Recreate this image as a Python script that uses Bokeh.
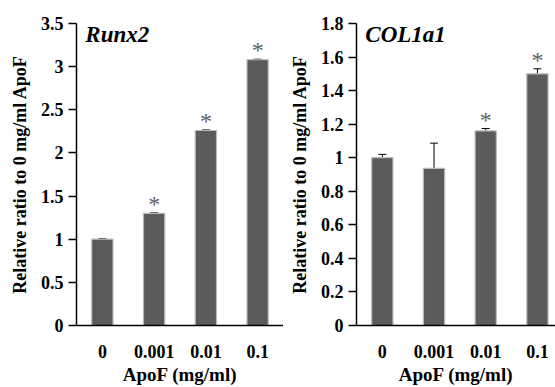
from bokeh.plotting import figure
from bokeh.layouts import row
from bokeh.models import (Range1d, FixedTicker, NumeralTickFormatter, Whisker,
                          TeeHead, ColumnDataSource, Label)
from bokeh.embed import file_html
from bokeh.resources import INLINE
from bokeh.core.properties import value

doses = ["0", "0.001", "0.01", "0.1"]
runx2_mean = [1.00, 1.30, 2.26, 3.08]
runx2_err = [0.006, 0.006, 0.006, 0.006]
runx2_sig = ["", "*", "*", "*"]
col1a1_mean = [1.00, 0.937, 1.16, 1.50]
col1a1_err = [0.02, 0.15, 0.014, 0.03]
col1a1_sig = ["", "", "*", "*"]
runx2_ticks = [0, 0.5, 1, 1.5, 2, 2.5, 3, 3.5]
col1a1_ticks = [0, 0.2, 0.4, 0.6, 0.8, 1, 1.2, 1.4, 1.6, 1.8]

FONT = "Liberation Serif"


def panel(title, means, errs, sig, yticks, width, border_left, xend):
    xs = [i + 0.5 for i in range(len(doses))]
    tops = [m + e for m, e in zip(means, errs)]
    src = ColumnDataSource(dict(x=xs, top=means, upper=tops, sig=sig))
    p = figure(width=width, height=387, output_backend="svg", toolbar_location=None,
               x_range=Range1d(0, xend), y_range=Range1d(0, yticks[-1]),
               min_border_left=border_left, min_border_right=0,
               min_border_top=23, min_border_bottom=59)
    p.outline_line_color = None
    p.grid.visible = False
    p.background_fill_color = "white"
    p.border_fill_color = "white"

    p.vbar(x="x", top="top", width=0.41, bottom=0, source=src,
           fill_color="#5b5b5b", line_color="#b8b8b8", line_width=1.2)
    w = Whisker(base="x", lower="top", upper="upper", source=src,
                line_color="black", line_width=1,
                lower_head=None, upper_head=TeeHead(size=8, line_color="black", line_width=1))
    p.add_layout(w)
    p.text(x="x", y="upper", text="sig", source=src, text_align="center",
           text_baseline="alphabetic", y_offset=-9,
           text_font=value(FONT), text_font_size="24px", text_color="#5e5e5e")

    lab = Label(x=0.17, y=yticks[-1], y_offset=-11, text=title, text_font=FONT,
                text_font_size="23px", text_font_style="bold italic",
                text_baseline="alphabetic", text_align="left", text_color="black")
    p.add_layout(lab)

    xa = p.xaxis[0]
    xa.ticker = FixedTicker(ticks=xs)
    xa.major_label_overrides = {x: d for x, d in zip(xs, doses)}
    xa.major_tick_line_color = None
    xa.minor_tick_line_color = None
    xa.major_label_standoff = 13
    xa.axis_label = "ApoF (mg/ml)"
    xa.axis_label_standoff = 3

    ya = p.yaxis[0]
    ya.ticker = FixedTicker(ticks=yticks)
    ya.formatter = NumeralTickFormatter(format="0.[0]")
    ya.major_tick_out = 8
    ya.major_tick_in = 0
    ya.minor_tick_line_color = None
    ya.major_label_standoff = 5
    ya.axis_label = "Relative ratio to 0 mg/ml ApoF"
    ya.axis_label_standoff = 8

    for ax in (xa, ya):
        ax.axis_line_color = "black"
        ax.axis_line_width = 1.5
        ax.major_tick_line_width = 1.5
        ax.major_label_text_font = FONT
        ax.major_label_text_font_size = "18px"
        ax.major_label_text_font_style = "bold"
        ax.major_label_text_color = "black"
        ax.axis_label_text_font = FONT
        ax.axis_label_text_font_size = "18px"
        ax.axis_label_text_font_style = "bold"
        ax.axis_label_text_color = "black"
    xa.axis_label_text_font_size = "19px"
    return p


p1 = panel("Runx2", runx2_mean, runx2_err, runx2_sig, runx2_ticks, 283, 76, 4.0)
p2 = panel("COL1a1", col1a1_mean, col1a1_err, col1a1_sig, col1a1_ticks, 272, 73, 3.85)
layout = row(p1, p2, spacing=0)

open("out.html", "w").write(file_html(layout, INLINE))
